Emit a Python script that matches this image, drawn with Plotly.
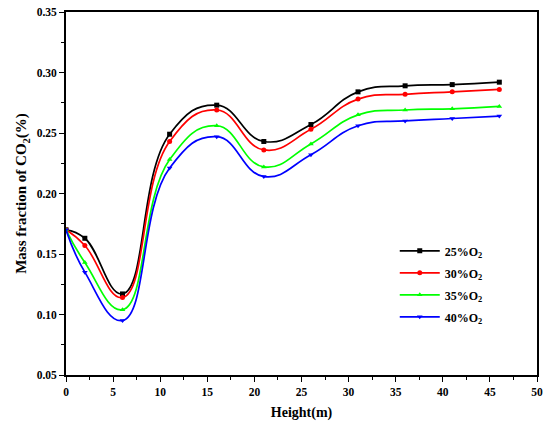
import plotly.graph_objects as go

height = [0, 2, 6, 11, 16, 21, 26, 31, 36, 41, 46]
series_names = ["25%O<sub>2</sub>", "30%O<sub>2</sub>", "35%O<sub>2</sub>", "40%O<sub>2</sub>"]
co2_25 = [0.170, 0.163, 0.117, 0.249, 0.273, 0.243, 0.257, 0.284, 0.289, 0.290, 0.292]
co2_30 = [0.170, 0.157, 0.114, 0.243, 0.269, 0.236, 0.253, 0.278, 0.282, 0.284, 0.286]
co2_35 = [0.170, 0.143, 0.104, 0.228, 0.256, 0.222, 0.241, 0.265, 0.269, 0.270, 0.272]
co2_40 = [0.170, 0.135, 0.095, 0.221, 0.247, 0.214, 0.232, 0.256, 0.260, 0.262, 0.264]

colors = ["#000000", "#FF0000", "#00FF00", "#0000FF"]
symbols = ["square", "circle", "triangle-up", "triangle-down"]

fig = go.Figure()
for i, (name, vals, c, s) in enumerate(zip(series_names, [co2_25, co2_30, co2_35, co2_40], colors, symbols)):
    fig.add_trace(go.Scatter(
        x=height, y=vals, name=name, mode="lines+markers", legendgroup=f"g{i}",
        line=dict(color=c, width=1.7, shape="spline", smoothing=1.3),
        marker=dict(symbol=s, size=5, color=c),
    ))

font_family = "Liberation Serif"
fig.update_layout(
    width=544, height=423,
    margin=dict(l=66, r=7, t=12, b=48),
    paper_bgcolor="white", plot_bgcolor="white",
    font=dict(family=font_family, size=11, color="black"),
    showlegend=True,
    legend=dict(x=0.698, y=0.382, xanchor="left", yanchor="top",
                bgcolor="rgba(0,0,0,0)", font=dict(size=12, family=font_family, weight="bold"),
                traceorder="grouped", tracegroupgap=3, itemwidth=40),
)
fig.update_xaxes(
    range=[0, 50], dtick=5, tick0=0, automargin=False,
    showline=True, linecolor="black", linewidth=1.8, mirror=True,
    ticks="outside", ticklen=5, tickwidth=1.3, tickcolor="black",
    minor=dict(dtick=2.5, ticks="outside", ticklen=3, tickwidth=1, tickcolor="black"),
    showgrid=False, zeroline=False,
    tickfont=dict(size=11.5, family=font_family, weight="bold"),
    title=dict(text="Height(m)", font=dict(size=14, family=font_family, weight="bold"), standoff=10),
)
fig.update_yaxes(
    range=[0.05, 0.35], dtick=0.05, tick0=0.05, tickformat=".2f", automargin=False,
    showline=True, linecolor="black", linewidth=1.8, mirror=True,
    ticks="outside", ticklen=5, tickwidth=1.3, tickcolor="black",
    minor=dict(dtick=0.025, ticks="outside", ticklen=3, tickwidth=1, tickcolor="black"),
    showgrid=False, zeroline=False,
    tickfont=dict(size=11.5, family=font_family, weight="bold"),
    title=dict(text="Mass fraction of CO<sub>2</sub>(%)", font=dict(size=15, family=font_family, weight="bold"), standoff=6),
)
fig.write_html("out.html")
